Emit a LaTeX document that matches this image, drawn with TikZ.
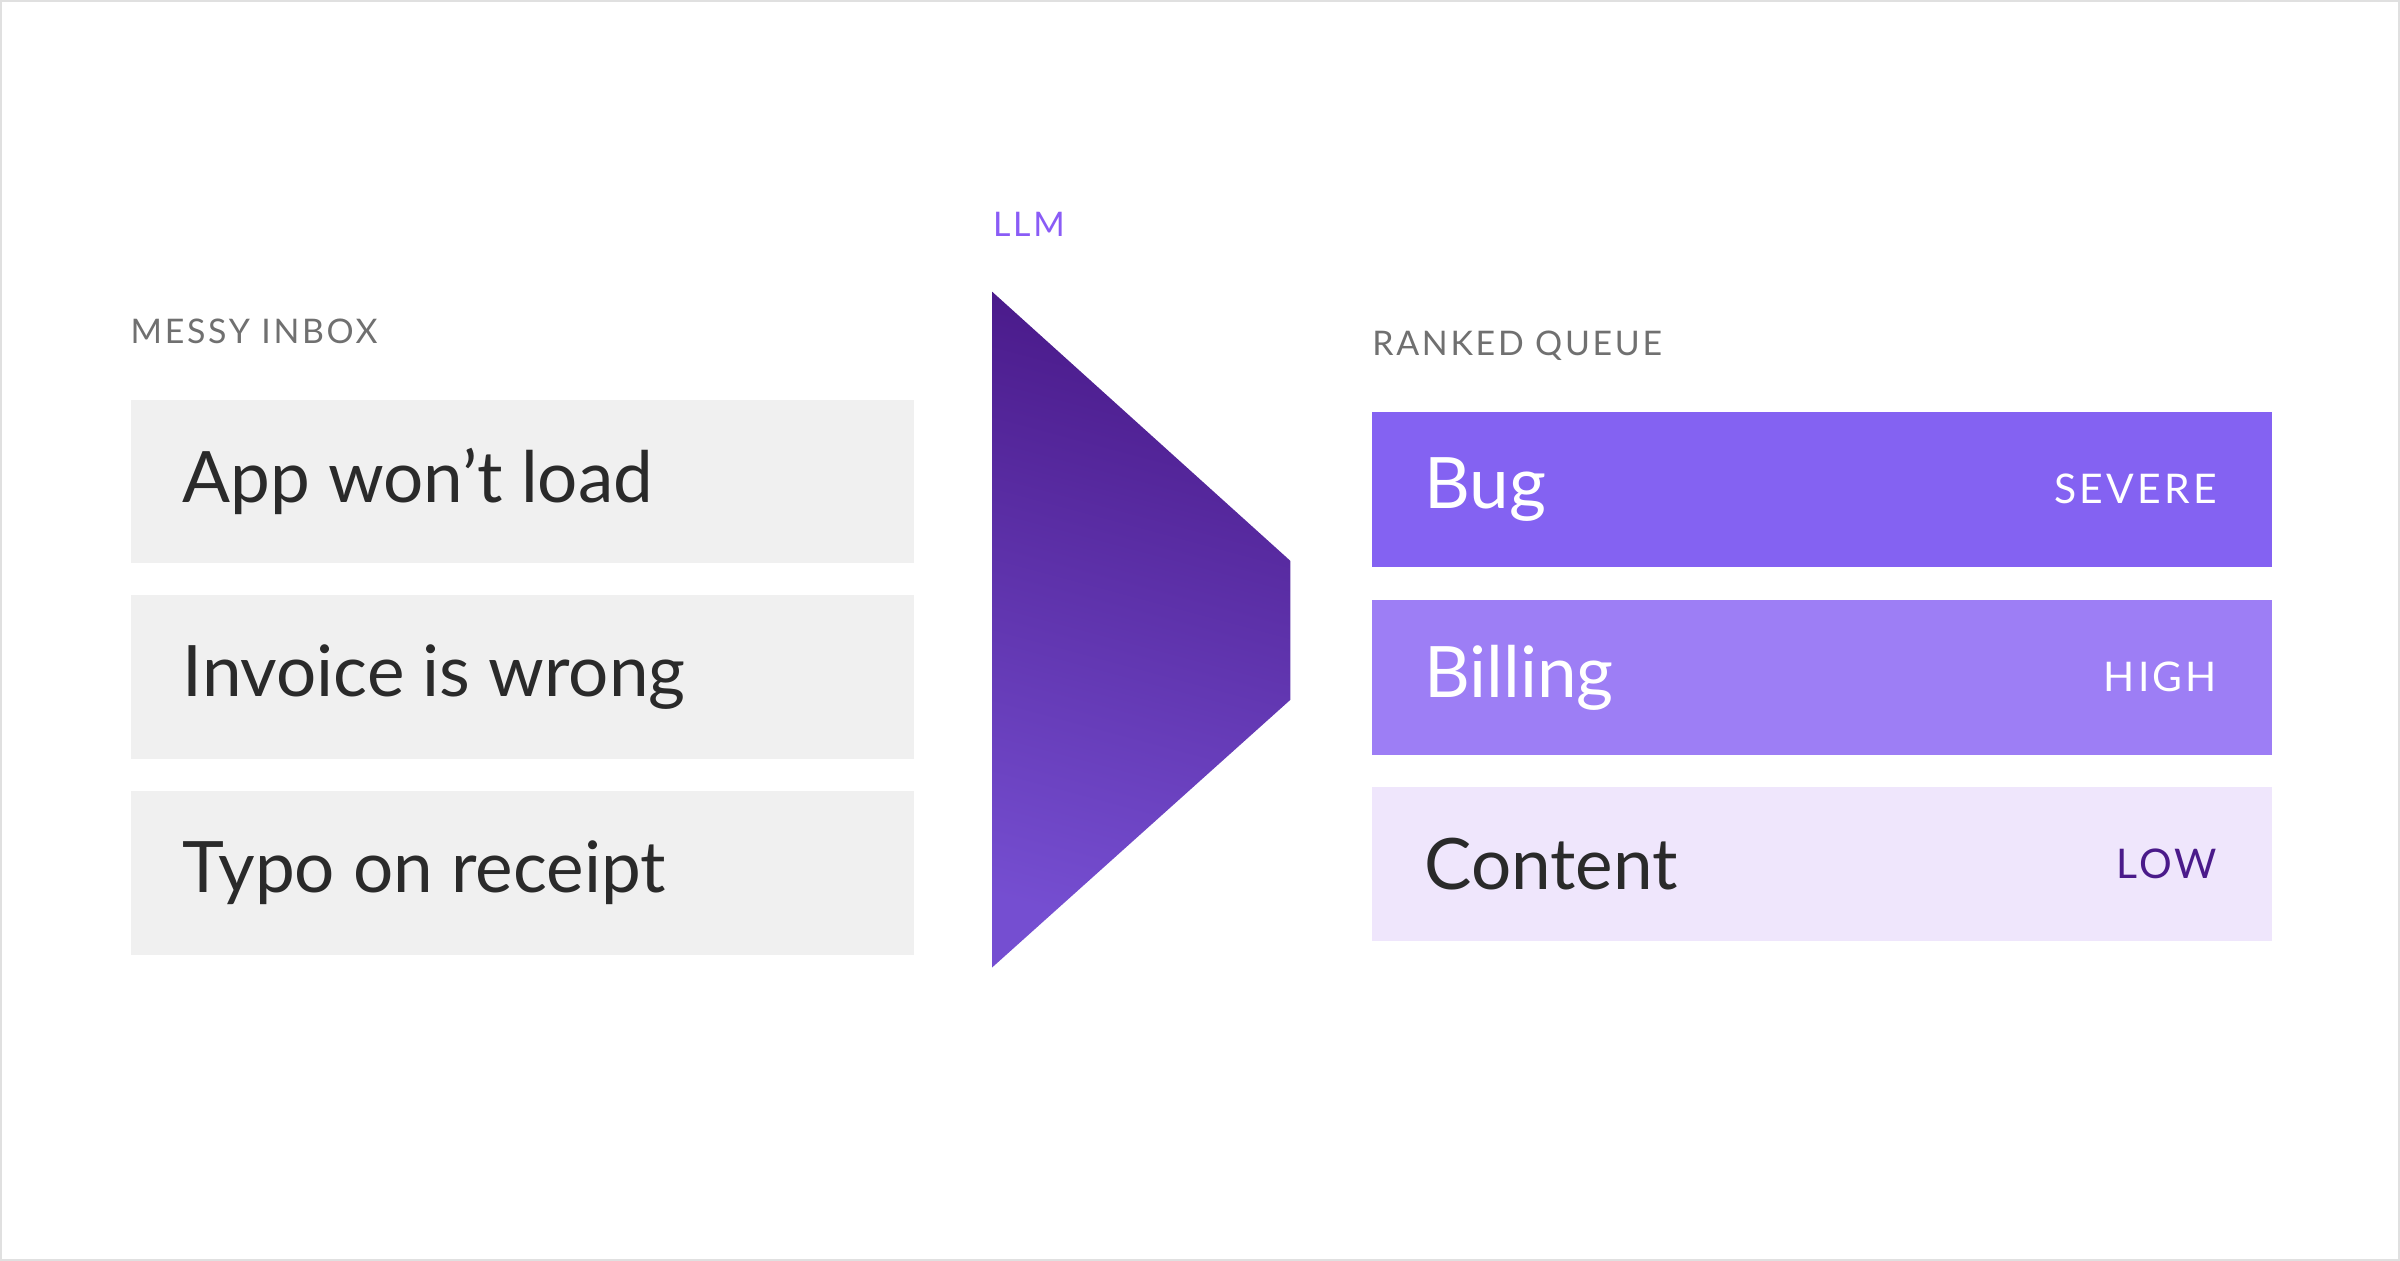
\documentclass[tikz,border=0pt]{standalone}
\usepackage{fontspec}
\setmainfont{Lato}
\usetikzlibrary{positioning}
\definecolor{InboxColor}{HTML}{F0F0F0}
\definecolor{SevereColor}{HTML}{8462F2}
\definecolor{HighColor}{HTML}{9D7EF5}
\definecolor{LowColor}{HTML}{EFE6FC}
\definecolor{DeepPurple}{HTML}{4A1A8A}
\definecolor{LabelGray}{HTML}{707070}
\definecolor{LlmColor}{HTML}{8A5CF6}
\definecolor{TextDark}{HTML}{2A2A2A}

\begin{document}
\begin{tikzpicture}[
	x=0.01cm, y=-0.01cm,
	% Define styles and settings
	inbox/.style={rectangle, fill=InboxColor, minimum height=1.07cm, minimum width=5.12cm, anchor=north west, inner sep=0pt},
	queue/.style={rectangle, minimum height=1.01cm, minimum width=5.88cm, anchor=north west, inner sep=0pt},
	heading/.style={anchor=base west, inner sep=0pt, text=LabelGray, font=\fontsize{6.3}{7}\selectfont\addfontfeature{LetterSpace=8}},
	item/.style={anchor=west, inner sep=0pt, text=TextDark, font=\fontsize{13.2}{15}\selectfont},
	rank/.style={anchor=east, inner sep=0pt, font=\fontsize{7.6}{9}\selectfont\addfontfeature{LetterSpace=8}}
	]
	\draw[black!12, fill=white] (0,0) rectangle (1568,823);

	% left column
	\node[heading] (InboxTitle) at (84,224) {MESSY INBOX};
	\node[inbox] (AppBox) at (84,260) {};
	\node[inbox] (InvoiceBox) at (84,388) {};
	\node[inbox] (TypoBox) at (84,516) {};
	\node[item] at ([xshift=0.34cm]AppBox.west) {App won't load};
	\node[item] at ([xshift=0.34cm]InvoiceBox.west) {Invoice is wrong};
	\node[item] at ([xshift=0.34cm]TypoBox.west) {Typo on receipt};

	% the model
	\node[heading, text=LlmColor] (LlmTitle) at (648,154) {LLM};
	\shade[top color=DeepPurple, bottom color=LlmColor!85!black, shading angle=-15]
		(648,190) -- (843,366) -- (843,457) -- (648,632) -- cycle;

	% right column
	\node[heading] (QueueTitle) at (896,232) {RANKED QUEUE};
	\node[queue, fill=SevereColor] (BugBox) at (896,268) {};
	\node[queue, fill=HighColor] (BillingBox) at (896,391) {};
	\node[queue, fill=LowColor] (ContentBox) at (896,513) {};
	\node[item, text=white] at ([xshift=0.34cm]BugBox.west) {Bug};
	\node[item, text=white] at ([xshift=0.34cm]BillingBox.west) {Billing};
	\node[item] at ([xshift=0.34cm]ContentBox.west) {Content};
	\node[rank, text=white] at ([xshift=-0.36cm]BugBox.east) {SEVERE};
	\node[rank, text=white] at ([xshift=-0.36cm]BillingBox.east) {HIGH};
	\node[rank, text=DeepPurple] at ([xshift=-0.36cm]ContentBox.east) {LOW};
\end{tikzpicture}
\end{document}
